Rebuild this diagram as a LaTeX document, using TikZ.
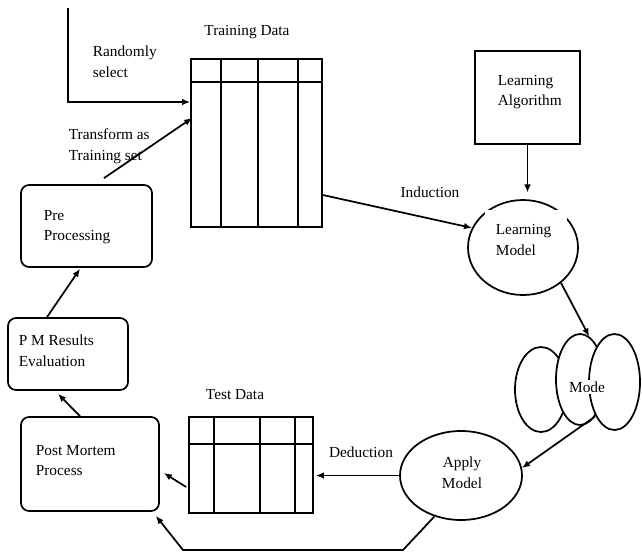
\documentclass[tikz,border=0pt]{standalone}
\usepackage{fontspec}
\setmainfont{Liberation Serif}
\usetikzlibrary{arrows.meta,shapes.geometric}
\begin{document}
\begin{tikzpicture}[x=0.75pt,y=-0.75pt, line width=1.3pt,
  font=\fontsize{11.5}{15.5}\selectfont,
  arr/.style={-{Latex[length=6pt,width=5pt]}},
  tbl/.style={draw, rectangle, inner sep=0pt},
  rbox/.style={draw, rectangle, rounded corners=6pt, inner sep=0pt},
  sbox/.style={draw, rectangle, inner sep=0pt},
  ell/.style={draw, ellipse, inner sep=0pt, fill=white},
  lbl/.style={inner sep=0pt, align=left, anchor=west},
  clbl/.style={inner sep=0pt, align=center},
  grid/.style={line width=1.1pt}]
\useasboundingbox (0,0) rectangle (642,554);

% Training data table
\node[tbl, minimum width=98.25pt, minimum height=126pt] (train) at (256.5,143) {};
\draw[grid] (191,82) -- (322,82) (221,59) -- (221,227) (258,59) -- (258,227) (298,59) -- (298,227);
\node[clbl] (trainlbl) at (247,32) {Training Data};

% Test data table
\node[tbl, minimum width=93pt, minimum height=72pt] (test) at (251,465) {};
\draw[grid] (189,444) -- (313,444) (214,417) -- (214,513) (260,417) -- (260,513) (295,417) -- (295,513);
\node[clbl] (testlbl) at (235,395) {Test Data};

% Boxes
\node[rbox, minimum width=98.25pt, minimum height=61.5pt] (pre) at (86.5,226) {};
\node[lbl] (pretxt) at (43,227) {Pre\\Processing};
\node[rbox, minimum width=90pt, minimum height=54pt] (pm) at (68,354) {};
\node[lbl] (pmtxt) at (18,351) {P M Results\\Evaluation};
\node[rbox, minimum width=103.5pt, minimum height=70.5pt] (pmp) at (90,464) {};
\node[lbl] (pmptxt) at (35,460.5) {Post Mortem\\Process};
\node[sbox, minimum width=78.75pt, minimum height=69.75pt] (la) at (527.5,97.5) {};
\node[lbl] (latxt) at (497,92) {Learning\\Algorithm};

% Learning model
\node[ell, minimum width=82.5pt, minimum height=71.25pt] (lm) at (523,247.5) {};
\node[lbl, fill=white, inner xsep=8.25pt, inner ysep=0pt, text width=45pt, minimum height=45pt] (lmtxt) at (484,240) {Learning\\Model};

% Apply model
\node[ell, minimum width=91.5pt, minimum height=66.75pt] (am) at (461,475.5) {};
\node[clbl] (amtxt) at (462,473) {Apply\\Model};

% Mode cloud
\node[ell, minimum width=39pt, minimum height=63.75pt] (m1) at (541,389.5) {};
\node[ell, minimum width=36pt, minimum height=68.25pt] (m2) at (580,379.5) {};
\node[ell, minimum width=38.25pt, minimum height=72pt] (m3) at (614.5,382) {};
\node[clbl, fill=white, inner sep=1.5pt] (mode) at (587,387) {Mode};

% Labels
\node[lbl] (rslbl) at (92,62) {Randomly\\select};
\node[lbl] (tflbl) at (68,146) {Transform as\\Training set};
\node[clbl] (indlbl) at (430,192) {Induction};
\node[clbl] (dedlbl) at (361,452) {Deduction};

% Connectors
\coordinate (rs) at (68,8);
\draw[arr] (rs) |- ([yshift=30.75pt]train.west);
\draw[arr] ([xshift=13.1pt,yshift=4.5pt]pre.north) -- ([xshift=1.5pt,yshift=18.75pt]train.west);
\draw[arr] ([yshift=-39pt]train.east) -- (lm.159);
\draw[arr, shorten >=5pt] (la.south) -- (la.south |- lm.north);
\draw[arr] (lm.-43.4) -- (m2.78);
\draw[arr] (m2.-68) -- (am.7);
\draw[arr, shorten >=1.5pt] (am.west) -- (am.west -| test.east);
\draw[arr] ([xshift=-1.5pt,yshift=-16.5pt]test.west) -- ([xshift=3pt,yshift=-6.75pt]pmp.east);
\coordinate (c1) at (403,550);
\coordinate (c2) at (183,550);
\draw[arr] (am.237) -- (c1) -- (c2) -- ([xshift=-3pt,yshift=-3pt]pmp.south east);
\draw[arr] ([xshift=-7.5pt]pmp.north) -- ([xshift=-7.5pt,yshift=-2.25pt]pm.south);
\draw[arr] ([xshift=-15.75pt]pm.north) -- ([xshift=-4.9pt,yshift=-0.75pt]pre.south);
\end{tikzpicture}
\end{document}
